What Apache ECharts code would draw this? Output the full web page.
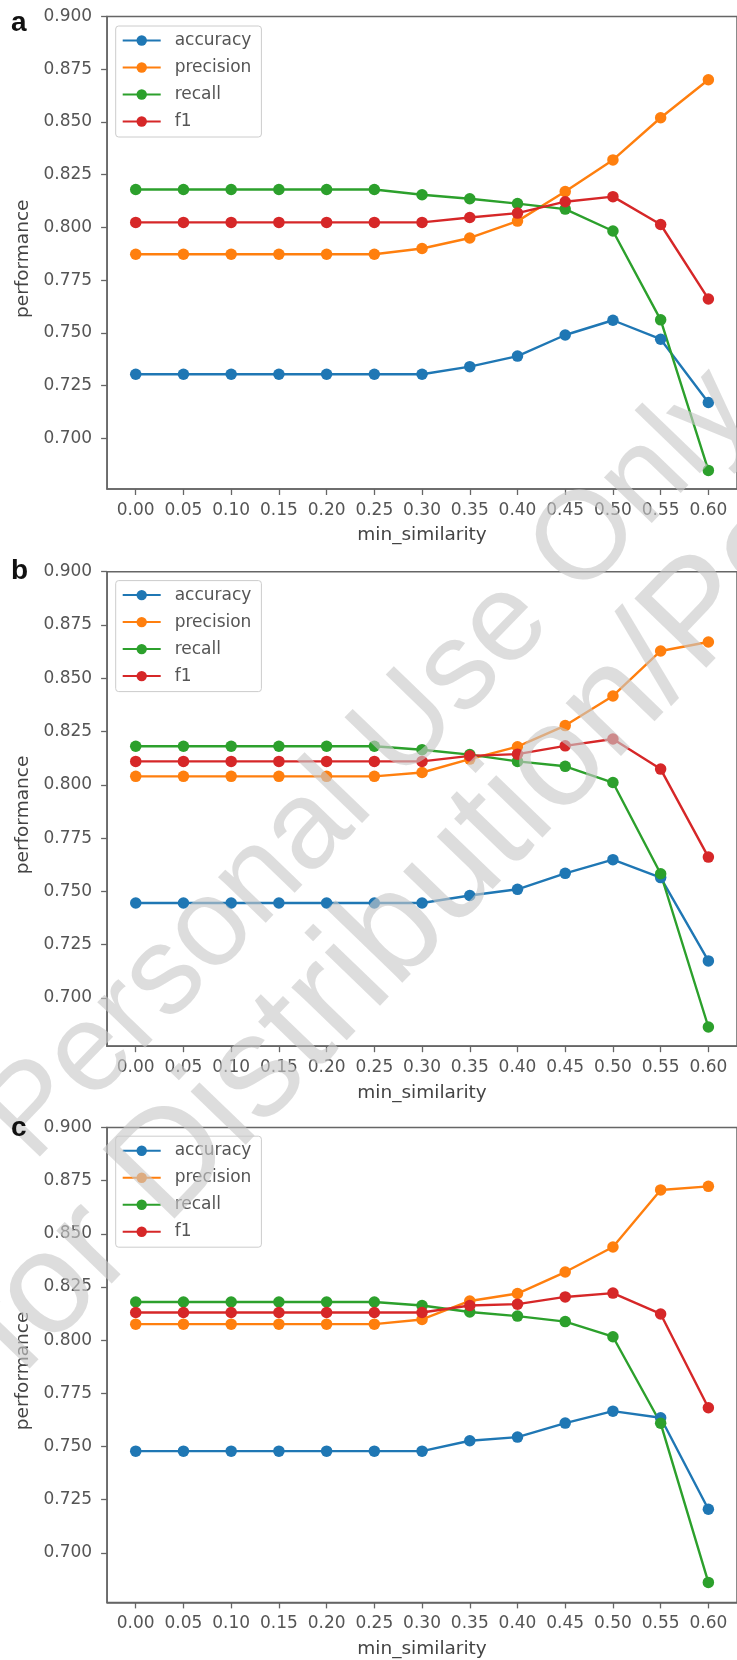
<!DOCTYPE html>
<html>
<head>
<meta charset="utf-8">
<script src="https://cdn.jsdelivr.net/npm/echarts@6/dist/echarts.min.js"></script>
<style>
html,body{margin:0;padding:0;background:#fff;}
#chart{width:737px;height:1660px;}
</style>
</head>
<body>
<div id="chart"></div>
<script>
// ---- data ----
const xValues = [0.00,0.05,0.10,0.15,0.20,0.25,0.30,0.35,0.40,0.45,0.50,0.55,0.60];
const yTickValues = [0.700,0.725,0.750,0.775,0.800,0.825,0.850,0.875,0.900];
const seriesNames = ['accuracy','precision','recall','f1'];
const seriesColors = ['#1f77b4','#ff7f0e','#2ca02c','#d62728'];
const panelLabels = ['a','b','c'];
const xAxisName = 'min_similarity';
const yAxisName = 'performance';

const accuracyA  = [0.7304,0.7304,0.7304,0.7304,0.7304,0.7304,0.7304,0.734,0.739,0.749,0.756,0.747,0.717];
const precisionA = [0.7873,0.7873,0.7873,0.7873,0.7873,0.7873,0.790,0.795,0.803,0.817,0.832,0.852,0.870];
const recallA    = [0.818,0.818,0.818,0.818,0.818,0.818,0.8155,0.8136,0.8113,0.8087,0.7983,0.7562,0.6848];
const f1A        = [0.8024,0.8024,0.8024,0.8024,0.8024,0.8024,0.8024,0.8047,0.8068,0.8122,0.8146,0.8014,0.7661];

const accuracyB  = [0.7446,0.7446,0.7446,0.7446,0.7446,0.7446,0.7446,0.7481,0.751,0.7585,0.7649,0.7565,0.7174];
const precisionB = [0.804,0.804,0.804,0.804,0.804,0.804,0.8058,0.8121,0.8179,0.8278,0.8417,0.8628,0.867];
const recallB    = [0.8181,0.8181,0.8181,0.8181,0.8181,0.8181,0.8165,0.8142,0.811,0.8087,0.8011,0.7583,0.6864];
const f1B        = [0.811,0.811,0.811,0.811,0.811,0.811,0.811,0.8136,0.8144,0.8183,0.8215,0.8074,0.7661];

const accuracyC  = [0.7478,0.7478,0.7478,0.7478,0.7478,0.7478,0.7478,0.7527,0.7544,0.761,0.7666,0.7635,0.7205];
const precisionC = [0.8075,0.8075,0.8075,0.8075,0.8075,0.8075,0.8097,0.8184,0.8219,0.832,0.8438,0.8706,0.8723];
const recallC    = [0.8179,0.8179,0.8179,0.8179,0.8179,0.8179,0.8163,0.8132,0.8113,0.8087,0.8016,0.7609,0.6861];
const f1C        = [0.813,0.813,0.813,0.813,0.813,0.813,0.813,0.8163,0.8169,0.8203,0.8221,0.8123,0.7682];

const panelData = [
  [accuracyA, precisionA, recallA, f1A],
  [accuracyB, precisionB, recallB, f1B],
  [accuracyC, precisionC, recallC, f1C]
];
const yMins = [0.676, 0.6774, 0.6767];
const yMax = 0.900;
const xMin = -0.03, xMax = 0.63;

// ---- layout ----
const gridTops = [16.5, 571.7, 1127.4];
const gridHeights = [472.5, 474.5, 475];
const gridLeft = 107.1;
const gridWidth = 635.8;
const legendTops = [26, 580.6, 1136.2];
const letterBaselines = [31, 579, 1136];

const FONT = '"DejaVu Sans", Verdana, sans-serif';
const AX = '#666666';
const TXT = '#555555';

const grids = [], xAxes = [], yAxes = [], series = [], legends = [], graphics = [];
for (let p = 0; p < 3; p++) {
  grids.push({left: gridLeft, top: gridTops[p], width: gridWidth, height: gridHeights[p],
    show: true, borderColor: AX, borderWidth: 1.5, backgroundColor: 'transparent', containLabel: false});
  xAxes.push({
    type: 'value', gridIndex: p, min: xMin, max: xMax,
    axisLine: {show: true, onZero: false, lineStyle: {color: AX, width: 1.5}},
    axisTick: {show: true, customValues: xValues, length: 6, lineStyle: {color: AX, width: 1.3}},
    axisLabel: {show: true, customValues: xValues, margin: 13, color: TXT, fontSize: 17, fontFamily: FONT,
      formatter: v => v.toFixed(2)},
    splitLine: {show: false},
    name: xAxisName, nameLocation: 'middle', nameGap: 37,
    nameTextStyle: {fontSize: 18.5, color: '#444', fontFamily: FONT}
  });
  yAxes.push({
    type: 'value', gridIndex: p, min: yMins[p], max: yMax,
    axisLine: {show: true, onZero: false, lineStyle: {color: AX, width: 1.5}},
    axisTick: {show: true, customValues: yTickValues, length: 6, lineStyle: {color: AX, width: 1.3}},
    axisLabel: {show: true, customValues: yTickValues, margin: 15, color: TXT, fontSize: 17, fontFamily: FONT,
      formatter: v => v.toFixed(3)},
    splitLine: {show: false},
    name: yAxisName, nameLocation: 'middle', nameGap: 71,
    nameTextStyle: {fontSize: 18.5, color: '#444', fontFamily: FONT, padding: [0, 12, 0, 0]}
  });
  for (let s = 0; s < 4; s++) {
    series.push({
      type: 'line', name: seriesNames[s], xAxisIndex: p, yAxisIndex: p,
      data: xValues.map((x, i) => [x, panelData[p][s][i]]),
      symbol: 'circle', symbolSize: 11.5, showSymbol: true,
      itemStyle: {color: seriesColors[s]},
      lineStyle: {color: seriesColors[s], width: 2.4},
      emphasis: {disabled: true}, silent: true, animation: false
    });
  }
  legends.push({
    data: seriesNames, orient: 'vertical', left: 115.7, top: legendTops[p],
    itemWidth: 38, itemHeight: 13, itemGap: 10,
    padding: [6, 10, 7, 6],
    backgroundColor: 'rgba(255,255,255,0.8)', borderColor: '#cccccc', borderWidth: 1, borderRadius: 3,
    textStyle: {fontSize: 17, color: TXT, fontFamily: FONT, lineHeight: 17, padding: [0, 0, 0, 9]},
    selectedMode: false
  });
  graphics.push({
    type: 'text', left: 11, top: letterBaselines[p] - 22, z: 110,
    style: {text: panelLabels[p], font: 'bold 28px "Liberation Sans", Arial, sans-serif', fill: '#111'}
  });
}

// watermark overlay
const wmColor = 'rgba(200,200,200,0.62)';
const rot = 46 * Math.PI / 180;
graphics.push({
  type: 'text', x: 8, y: 1140, rotation: rot, z: 100, silent: true,
  style: {text: 'Personal Use Only', font: '125px "Liberation Sans", Arial, sans-serif',
    fill: wmColor, textAlign: 'left', textVerticalAlign: 'middle'}
});
graphics.push({
  type: 'text', x: -8, y: 1350, rotation: rot, z: 100, silent: true,
  style: {text: 'for Distribution/Posting', font: '145px "Liberation Sans", Arial, sans-serif',
    fill: wmColor, textAlign: 'left', textVerticalAlign: 'middle'}
});

const chart = echarts.init(document.getElementById('chart'), null, {renderer: 'canvas'});
chart.setOption({
  animation: false,
  backgroundColor: '#ffffff',
  grid: grids, xAxis: xAxes, yAxis: yAxes, series: series, legend: legends,
  graphic: graphics
});
</script>
</body>
</html>
